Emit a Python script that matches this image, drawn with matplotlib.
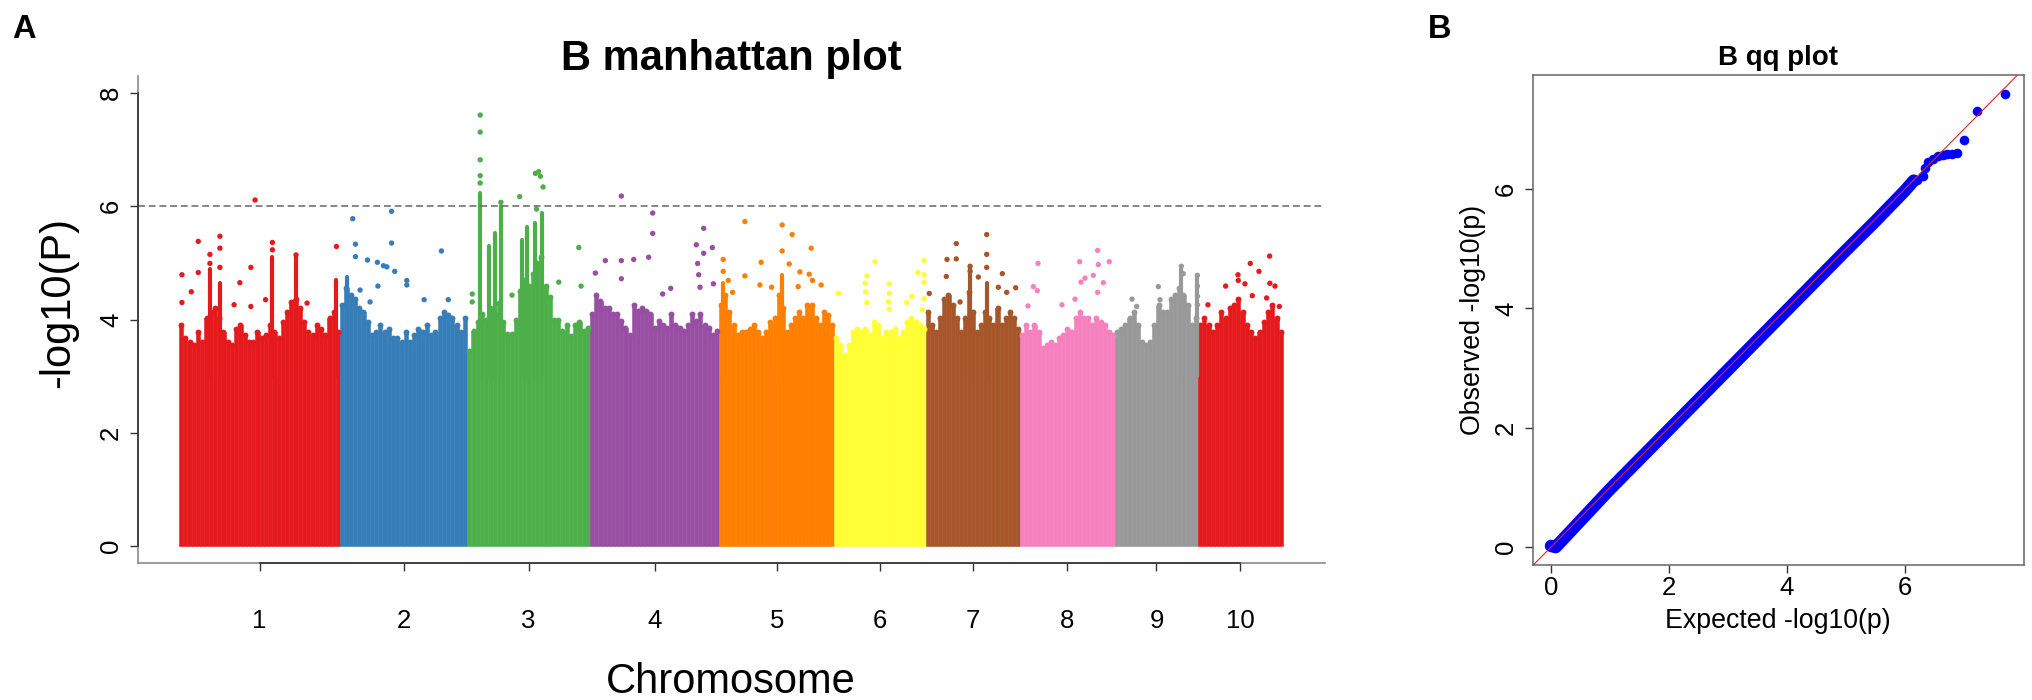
import numpy as np
import matplotlib
matplotlib.use("Agg")
import matplotlib.pyplot as plt

plt.rcParams['font.family'] = ['Liberation Sans', 'DejaVu Sans']

# ---------------- data ----------------
chrom_labels = ["1", "2", "3", "4", "5", "6", "7", "8", "9", "10"]
chrom_len = [307, 242, 234, 246, 219, 175, 179, 181, 158, 162]   # Mb
chrom_colors = ["#E41A1C", "#377EB8", "#4DAF4A", "#984EA3", "#FF7F00",
                "#FFFF33", "#A65628", "#F781BF", "#999999", "#E41A1C"]

# top of the dense SNP mass, equal bins along each chromosome
env_chr1 = [3.90, 3.67, 3.61, 3.55, 3.78, 3.61, 4.02, 4.14, 4.20, 4.02, 3.78, 3.61, 3.55,
            3.84, 3.90, 3.73, 3.61, 3.61, 3.78, 3.67, 3.73, 3.90, 3.78, 3.67, 3.96, 4.14,
            4.31, 4.37, 4.20, 3.96, 3.78, 3.73, 3.90, 3.84, 3.73, 4.02, 4.14, 3.78]
env_chr2 = [4.26, 4.55, 4.43, 4.37, 4.20, 4.14, 3.96, 3.73, 3.78, 3.90, 3.78, 3.84, 3.67,
            3.67, 3.61, 3.78, 3.61, 3.73, 3.84, 3.78, 3.90, 3.73, 3.78, 4.02, 4.14, 4.08,
            4.02, 3.90, 3.78, 4.02]
env_chr3 = [3.45, 3.80, 3.95, 4.10, 4.00, 4.20, 4.10, 4.30, 3.95, 3.75, 3.75, 4.00, 4.50,
            4.70, 4.60, 4.80, 5.00, 5.10, 4.60, 4.40, 4.00, 4.00, 3.80, 3.90, 3.70, 3.90,
            3.95, 3.80, 3.85]
env_chr4 = [4.09, 4.44, 4.32, 4.21, 4.21, 4.09, 4.09, 3.97, 3.85, 3.73, 4.26, 4.15, 4.21,
            4.15, 4.09, 3.85, 3.97, 3.91, 3.85, 4.09, 3.91, 3.85, 3.79, 3.91, 4.09, 3.97,
            4.09, 3.91, 3.85, 3.73, 3.79]
env_chr5 = [4.26, 4.43, 4.14, 3.90, 3.73, 3.78, 3.78, 3.84, 3.90, 3.78, 3.67, 3.78, 3.96,
            4.02, 4.43, 4.20, 3.78, 3.90, 4.02, 4.14, 4.02, 4.26, 4.26, 4.02, 3.90, 4.14,
            4.08, 3.90]
env_chr6 = [3.67, 3.55, 3.37, 3.55, 3.78, 3.84, 3.78, 3.84, 3.73, 3.96, 3.90, 3.67, 3.78,
            3.78, 3.84, 3.67, 3.78, 3.96, 4.02, 3.96, 3.90, 3.84]
env_chr7 = [4.14, 3.90, 3.78, 4.02, 4.37, 4.43, 4.26, 4.02, 3.78, 4.02, 4.49, 4.14, 3.78,
            3.90, 4.14, 4.02, 3.90, 4.20, 3.90, 4.02, 4.14, 4.02, 3.84]
env_chr8 = [3.73, 3.90, 3.78, 3.90, 3.78, 3.49, 3.55, 3.61, 3.55, 3.67, 3.73, 3.84, 3.78,
            4.02, 4.14, 4.02, 4.02, 3.90, 4.02, 3.96, 3.90, 3.78, 3.73]
env_chr9 = [3.78, 3.84, 3.90, 4.02, 4.14, 3.90, 3.61, 3.55, 3.61, 3.90, 4.26, 4.14, 4.14,
            4.37, 4.43, 4.55, 4.43, 4.26, 3.90, 4.02]
env_chr10 = [3.90, 4.02, 3.90, 3.78, 3.90, 4.14, 4.02, 4.20, 4.26, 4.37, 4.14, 3.90, 3.78,
             3.67, 3.78, 3.96, 4.14, 4.26, 4.02, 3.78]
env_all = [env_chr1, env_chr2, env_chr3, env_chr4, env_chr5,
           env_chr6, env_chr7, env_chr8, env_chr9, env_chr10]

# dense vertical stacks of SNPs (chromosome, position Mb, top)
col_chr = [1, 1, 1, 1, 1, 2, 3, 3, 3, 3, 3, 3, 3, 3, 5, 5, 7, 7, 9, 9]
col_pos = [59, 78, 178, 223, 300, 13, 24.8, 42.0, 52.2, 64.3, 104.5, 114.0, 130.0, 142.7,
           7.7, 119, 84, 115.6, 126.3, 157]
col_top = [4.90, 4.65, 5.10, 5.10, 4.70, 4.75, 6.23, 5.29, 5.52, 6.00, 5.41, 5.64, 5.70,
           5.88, 4.64, 4.79, 4.94, 4.64, 4.90, 4.78]

# isolated SNPs above the mass
dot_chr = ([1] * 21 + [2] * 18 + [3] * 18 + [4] * 19 + [5] * 19 +
           [6] * 18 + [7] * 16 + [8] * 15 + [9] * 10 + [10] * 13)
dot_pos = [5.7, 5.7, 23.5, 36.8, 36.8, 59, 59, 78, 78, 78, 105, 116, 137, 137, 145, 165,
           178, 178, 223, 244, 300,
           24.1, 29.2, 29.2, 38, 52, 57, 71, 72, 82.5, 89, 98, 98, 104, 127, 127, 160, 193, 206,
           9.6, 9.6, 24.8, 24.8, 24.8, 24.8, 24.8, 64.3, 85.4, 100, 130, 136, 139.5, 144.6,
           132, 174.5, 212.7, 217,
           10.2, 29.2, 59.7, 59.7, 59.7, 83.2, 111.7, 119.4, 119.4, 138.4, 153.7, 202.5, 205,
           207, 209.5, 216.5, 216.5, 233, 235,
           7.7, 7.7, 17.4, 25.6, 49, 49, 77.5, 80, 99.8, 120, 120, 133.4, 139, 150.5, 153.7,
           171.5, 175.3, 177.8, 194.3,
           8.25, 59, 60.3, 62.2, 62.2, 78.1, 103.5, 104.8, 105.4, 104.8, 138.4, 147.9, 159.4,
           167.6, 171.4, 171.4, 171.4, 171.4,
           6.2, 38.7, 40, 57.7, 57.7, 64.8, 84, 84, 99.7, 115.6, 115.6, 115.6, 137.8, 145.4,
           153.7, 170.8,
           15.2, 25.4, 33, 34.3, 80, 104.8, 113.7, 116.2, 123.8, 139.7, 148, 148, 149.2,
           158.7, 170,
           32.4, 41.3, 82.5, 85.7, 126.3, 130, 157, 157, 157, 157,
           19, 52.7, 76.2, 76.8, 89.5, 99.7, 103.5, 116.2, 130.8, 136.5, 137, 146.7, 155]
dot_val = [4.79, 4.30, 4.49, 5.38, 4.83, 5.15, 4.99, 5.47, 5.26, 4.92, 4.26, 4.65, 4.92,
           4.23, 6.11, 4.35, 5.36, 5.23, 5.14, 4.29, 5.29,
           5.78, 5.33, 5.11, 4.52, 5.05, 4.31, 5.01, 4.59, 4.95, 4.93, 5.91, 5.35, 4.85, 4.69,
           4.61, 4.35, 5.21, 4.35,
           4.45, 4.31, 6.41, 6.54, 6.82, 7.31, 7.61, 6.07, 4.43, 6.17, 6.58, 6.61, 6.53, 6.34,
           5.95, 4.66, 5.27, 4.59,
           4.82, 5.04, 6.18, 5.04, 4.72, 5.06, 5.10, 5.88, 5.52, 4.45, 4.55, 5.32, 4.99, 4.79,
           4.57, 5.61, 5.17, 5.27, 4.63,
           5.06, 4.85, 4.69, 4.48, 5.73, 4.77, 4.61, 5.01, 4.57, 5.67, 5.21, 4.98, 5.50, 4.58,
           4.84, 4.80, 5.26, 4.69, 4.61,
           4.46, 4.64, 4.49, 4.77, 4.30, 5.02, 4.31, 4.63, 4.46, 4.18, 4.30, 4.41, 4.83, 4.17,
           5.04, 4.79, 4.66, 4.37,
           4.46, 4.76, 5.06, 5.34, 5.07, 4.31, 4.94, 4.85, 4.75, 5.50, 5.15, 4.92, 4.57, 4.81,
           4.48, 4.56,
           4.24, 4.58, 4.51, 4.99, 4.26, 4.36, 5.02, 4.66, 4.73, 4.78, 5.22, 4.48, 4.97, 4.65,
           5.02,
           4.36, 4.23, 4.58, 4.35, 4.94, 4.81, 4.78, 4.59, 4.41, 4.26,
           4.26, 4.59, 4.79, 4.69, 4.63, 4.99, 4.42, 4.85, 4.38, 5.12, 4.64, 4.59, 4.23]

threshold = 6

# QQ plot: dense body of the curve and the scattered tail
qq_exp = [0.0, 0.08, 1.0, 2.0, 3.0, 4.0, 5.0, 5.5, 6.0, 6.15]
qq_obs = [0.02, 0.0, 0.97, 1.97, 2.97, 3.97, 4.97, 5.46, 5.97, 6.14]
qq_tail_exp = [6.2, 6.3, 6.34, 6.4, 6.48, 6.56, 6.64, 6.72, 6.8, 6.88, 7.0, 7.22, 7.70]
qq_tail_obs = [6.15, 6.22, 6.36, 6.45, 6.5, 6.55, 6.57, 6.58, 6.59, 6.6, 6.82, 7.31, 7.60]

# ---------------- figure ----------------
W, H = 2033, 700
fig = plt.figure(figsize=(W / 100, H / 100), dpi=100)


def fx(px):
    return px / W


def fy(py):
    return 1 - py / H


starts = np.concatenate([[0], np.cumsum(chrom_len)[:-1]])
mids = starts + np.array(chrom_len) / 2
total = sum(chrom_len)

# ---- Panel A: manhattan ----
ax1 = fig.add_axes([fx(138), fy(563), fx(1187), 487 / H])
for i, env in enumerate(env_all):
    w = chrom_len[i] / len(env)
    xs = starts[i] + (np.arange(len(env)) + 0.5) * w
    ax1.bar(xs, env, width=w, color=chrom_colors[i], edgecolor=chrom_colors[i],
            linewidth=0.4, zorder=2)
    # round off the bin tops like stacked points
    ax1.scatter(xs, env, s=18, color=chrom_colors[i], linewidths=0, zorder=2.5)

cc = np.array(col_chr) - 1
cx = starts[cc] + np.array(col_pos)
ax1.vlines(cx, 3.0, col_top, colors=[chrom_colors[c] for c in cc], linewidth=3.0,
           capstyle="round", zorder=3)

dc = np.array(dot_chr) - 1
dx = starts[dc] + np.array(dot_pos)
ax1.scatter(dx, dot_val, s=15, c=[chrom_colors[c] for c in dc], linewidths=0, zorder=4)

ax1.axhline(threshold, color="#666666", lw=1.1, dashes=(4.5, 2.5), zorder=5)

ax1.set_xlim(-78, total + 80)
ax1.set_ylim(-0.30, 8.30)
for s in ("top", "right"):
    ax1.spines[s].set_visible(False)
for s in ("left", "bottom"):
    ax1.spines[s].set_color("#8a8a8a")
    ax1.spines[s].set_linewidth(1.2)
ax1.plot([mids[0], mids[-1]], [0, 0], transform=ax1.get_xaxis_transform(),
         color="#333333", lw=1.2, clip_on=False, zorder=6)
ax1.plot([0, 0], [0, 8], transform=ax1.get_yaxis_transform(),
         color="#333333", lw=1.2, clip_on=False, zorder=6)
ax1.set_xticks(mids)
ax1.set_xticklabels([])
ax1.set_yticks([0, 2, 4, 6, 8])
ax1.set_yticklabels([])
ax1.tick_params(direction="out", length=5.8, width=1.0, color="#333333")
for m, lab in zip(mids, chrom_labels):
    ax1.text(m, -0.1335, lab, transform=ax1.get_xaxis_transform(), ha="center",
             va="baseline", fontsize=18.5)
for v in [0, 2, 4, 6, 8]:
    ax1.text(-0.0169, v, str(v), transform=ax1.get_yaxis_transform(), rotation=90,
             rotation_mode="anchor", ha="center", va="baseline", fontsize=18.5)

fig.text(fx(731.5), fy(70), "B manhattan plot", ha="center", va="baseline",
         fontsize=30, fontweight="bold")
fig.text(fx(731), fy(693), "Chromosome", ha="center", va="baseline", fontsize=30)
fig.text(fx(69), fy(302.5), "-log10(P)", rotation=90, rotation_mode="anchor",
         ha="center", va="baseline", fontsize=30)

# ---- Panel B: qq plot ----
ax2 = fig.add_axes([fx(1533), fy(565), fx(491), 490 / H])
ax2.plot(qq_exp, qq_obs, color="#0000FF", lw=9, solid_capstyle="round",
         solid_joinstyle="round", zorder=2)
ax2.scatter(qq_tail_exp, qq_tail_obs, s=48, color="#0000FF", linewidths=0, zorder=3)
ax2.axline((0, 0), slope=1, color="#E8231F", lw=0.8, zorder=4)
ax2.set_xlim(-0.305, 8.02)
ax2.set_ylim(-0.30, 7.91)
for s in ax2.spines.values():
    s.set_color("#666666")
    s.set_linewidth(1.1)
ax2.set_xticks([0, 2, 4, 6])
ax2.set_yticks([0, 2, 4, 6])
ax2.set_xticklabels([])
ax2.set_yticklabels([])
ax2.tick_params(direction="out", length=5.8, width=1.0, color="#333333")
for v in [0, 2, 4, 6]:
    ax2.text(v, -0.0612, str(v), transform=ax2.get_xaxis_transform(), ha="center",
             va="baseline", fontsize=18.5)
    ax2.text(-0.0407, v, str(v), transform=ax2.get_yaxis_transform(), rotation=90,
             rotation_mode="anchor", ha="center", va="baseline", fontsize=18.5)

fig.text(fx(1778), fy(65), "B qq plot", ha="center", va="baseline",
         fontsize=20, fontweight="bold")
fig.text(fx(1778), fy(628.5), "Expected -log10(p)", ha="center", va="baseline",
         fontsize=19.3)
fig.text(fx(1480), fy(320), "Observed -log10(p)", rotation=90, rotation_mode="anchor",
         ha="center", va="baseline", fontsize=19.3)

# panel letters
fig.text(fx(12), fy(38.3), "A", ha="left", va="baseline", fontsize=23.5, fontweight="bold")
fig.text(fx(1428), fy(38.3), "B", ha="left", va="baseline", fontsize=23.5, fontweight="bold")

fig.savefig("out.png", dpi=100)
